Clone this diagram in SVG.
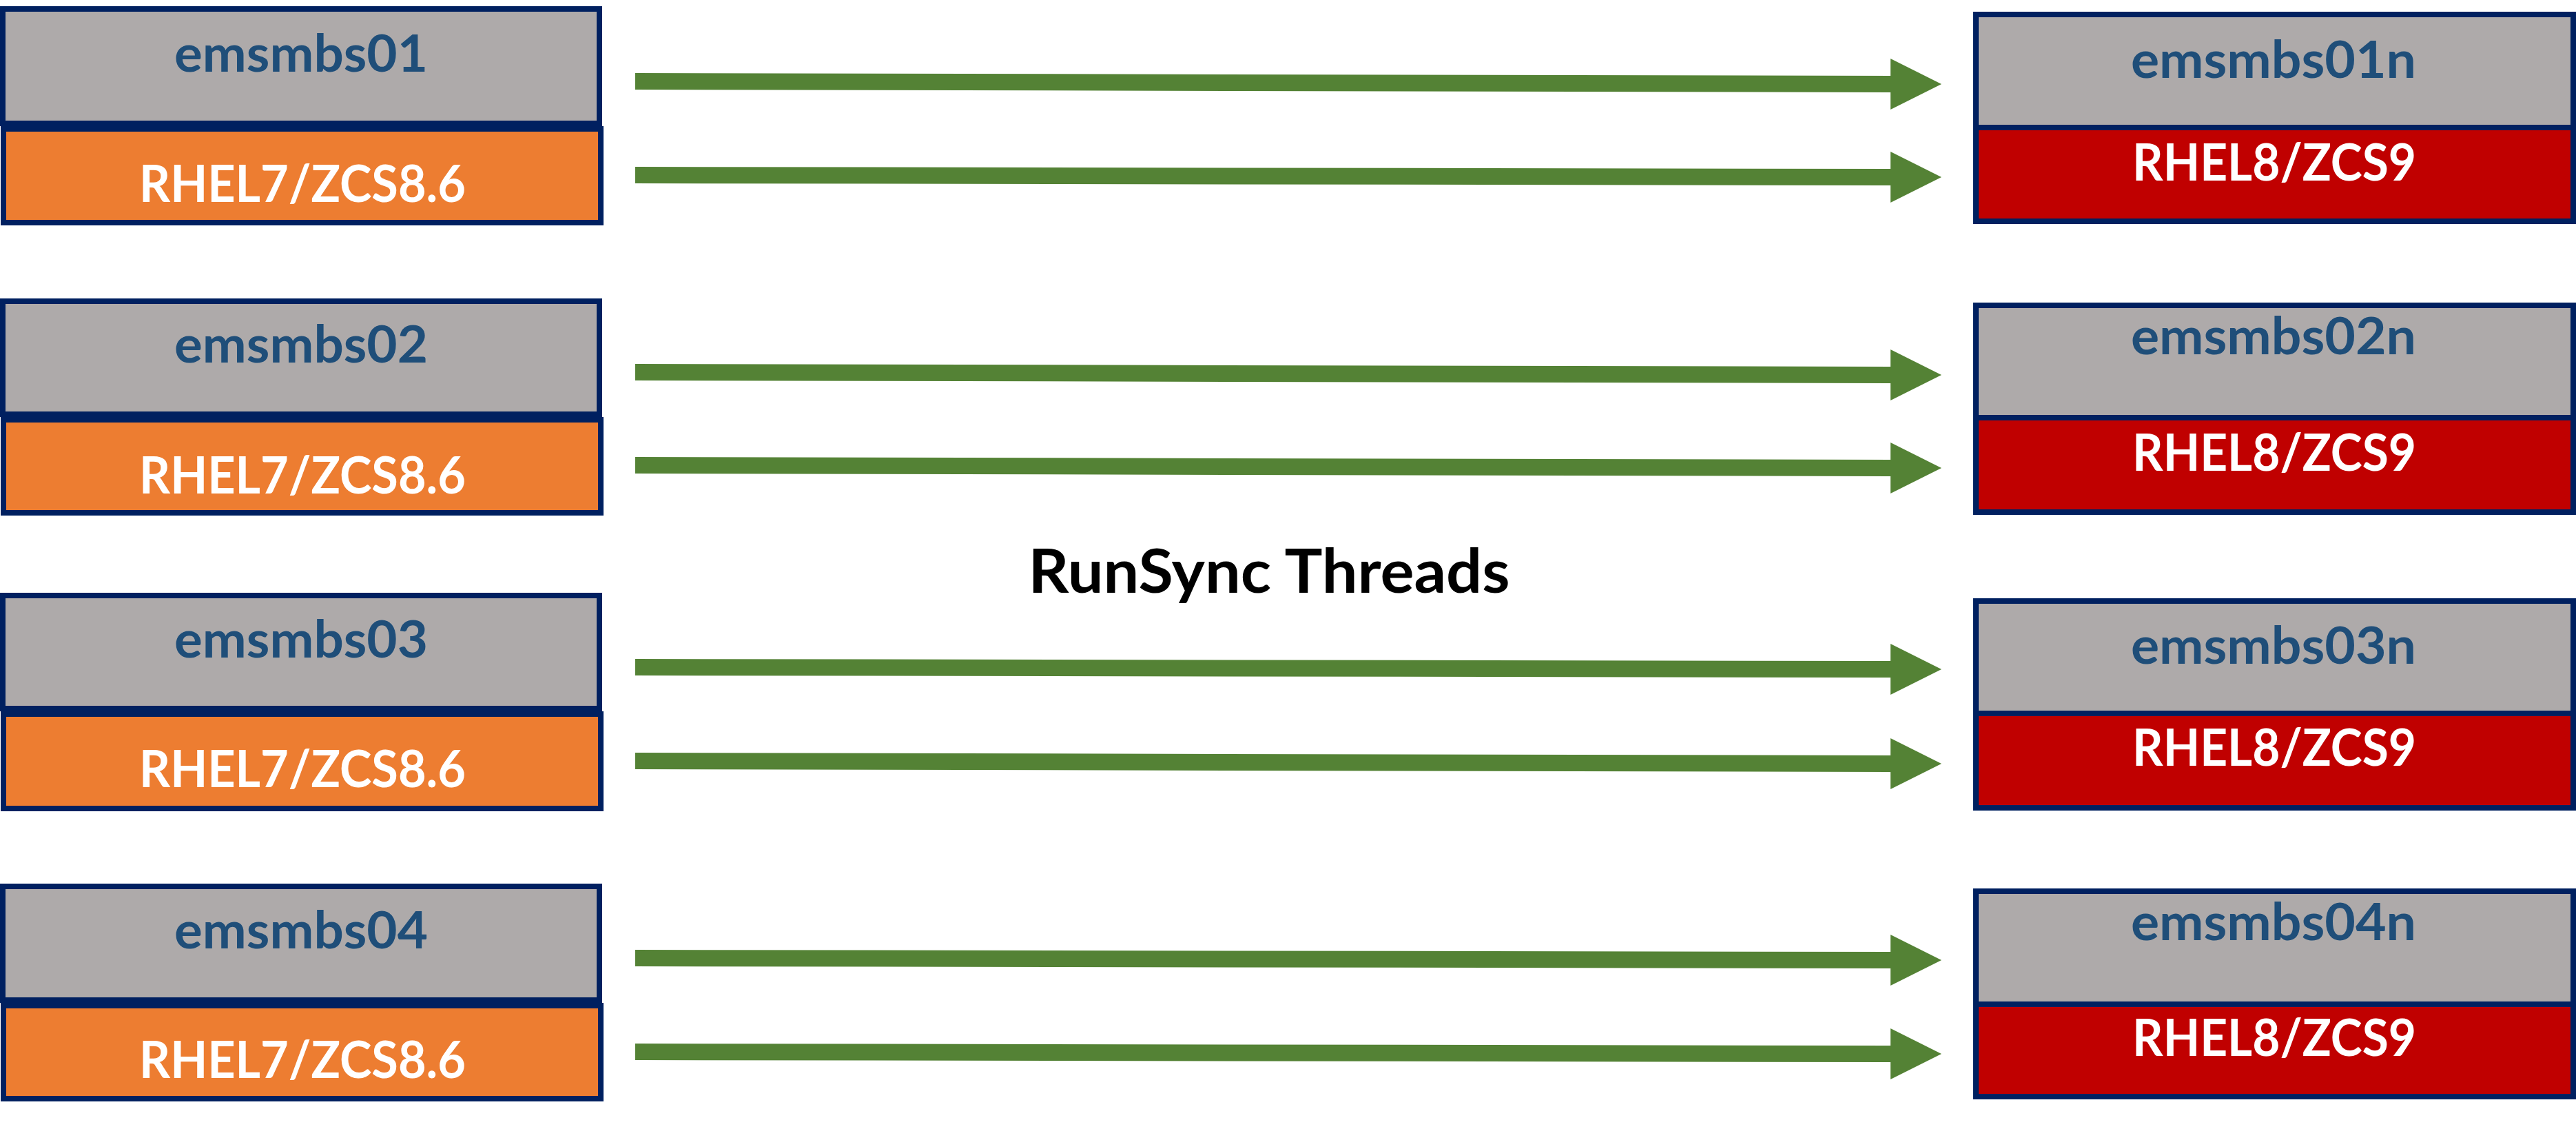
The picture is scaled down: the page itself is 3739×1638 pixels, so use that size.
<svg xmlns="http://www.w3.org/2000/svg" width="3739" height="1638" viewBox="0 0 3739 1638">
<style>
  .bg{fill:#FFFFFF}
  .gray{fill:#AEAAAA;stroke:#002060;stroke-width:8}
  .orange{fill:#ED7D31;stroke:#002060;stroke-width:8}
  .red{fill:#C00000}
  .frame{fill:none;stroke:#002060;stroke-width:8}
  .grayfill{fill:#AEAAAA}
  .div{stroke:#002060;stroke-width:8}
  .name{font-family:Lato,"Liberation Sans",Arial,sans-serif;font-weight:700;font-size:75px;fill:#1F4E79;text-anchor:middle}
  .os{font-family:Lato,"Liberation Sans",Arial,sans-serif;font-weight:700;font-size:75px;fill:#FFFFFF;text-anchor:middle}
  .title{font-family:Lato,"Liberation Sans",Arial,sans-serif;font-weight:700;font-size:88px;fill:#000000;text-anchor:middle}
  .arrow{fill:#548235}
</style>
<rect class="bg" x="0" y="0" width="3739" height="1638"/>

<!-- Left (source) servers -->
<g id="src-emsmbs01">
  <rect class="gray" x="4" y="13" width="866" height="166"/>
  <rect class="orange" x="5" y="187" width="867" height="136"/>
  <text class="name" x="437" y="104" textLength="368" lengthAdjust="spacingAndGlyphs">emsmbs01</text>
  <text class="os" x="439" y="293" textLength="474" lengthAdjust="spacingAndGlyphs">RHEL7/ZCS8.6</text>
</g>
<g id="src-emsmbs02">
  <rect class="gray" x="4" y="437" width="866" height="164"/>
  <rect class="orange" x="5" y="609" width="867" height="135"/>
  <text class="name" x="437" y="526" textLength="368" lengthAdjust="spacingAndGlyphs">emsmbs02</text>
  <text class="os" x="439" y="716" textLength="474" lengthAdjust="spacingAndGlyphs">RHEL7/ZCS8.6</text>
</g>
<g id="src-emsmbs03">
  <rect class="gray" x="4" y="864" width="866" height="164"/>
  <rect class="orange" x="5" y="1036" width="867" height="137"/>
  <text class="name" x="437" y="954" textLength="368" lengthAdjust="spacingAndGlyphs">emsmbs03</text>
  <text class="os" x="439" y="1142" textLength="474" lengthAdjust="spacingAndGlyphs">RHEL7/ZCS8.6</text>
</g>
<g id="src-emsmbs04">
  <rect class="gray" x="4" y="1286" width="866" height="165"/>
  <rect class="orange" x="5" y="1459" width="867" height="135"/>
  <text class="name" x="437" y="1376" textLength="368" lengthAdjust="spacingAndGlyphs">emsmbs04</text>
  <text class="os" x="439" y="1564" textLength="474" lengthAdjust="spacingAndGlyphs">RHEL7/ZCS8.6</text>
</g>

<!-- Right (target) servers -->
<g id="dst-emsmbs01n">
  <rect class="grayfill" x="2868" y="21" width="867" height="164"/>
  <rect class="red" x="2868" y="185" width="867" height="136"/>
  <line class="div" x1="2868" y1="185" x2="3735" y2="185"/>
  <rect class="frame" x="2868" y="21" width="867" height="300"/>
  <text class="name" x="3300" y="113" textLength="414" lengthAdjust="spacingAndGlyphs">emsmbs01n</text>
  <text class="os" x="3301" y="262" textLength="412" lengthAdjust="spacingAndGlyphs">RHEL8/ZCS9</text>
</g>
<g id="dst-emsmbs02n">
  <rect class="grayfill" x="2868" y="443" width="867" height="163"/>
  <rect class="red" x="2868" y="606" width="867" height="137"/>
  <line class="div" x1="2868" y1="606" x2="3735" y2="606"/>
  <rect class="frame" x="2868" y="443" width="867" height="300"/>
  <text class="name" x="3300" y="514" textLength="414" lengthAdjust="spacingAndGlyphs">emsmbs02n</text>
  <text class="os" x="3301" y="683" textLength="412" lengthAdjust="spacingAndGlyphs">RHEL8/ZCS9</text>
</g>
<g id="dst-emsmbs03n">
  <rect class="grayfill" x="2868" y="872" width="867" height="163"/>
  <rect class="red" x="2868" y="1035" width="867" height="137"/>
  <line class="div" x1="2868" y1="1035" x2="3735" y2="1035"/>
  <rect class="frame" x="2868" y="872" width="867" height="300"/>
  <text class="name" x="3300" y="963" textLength="414" lengthAdjust="spacingAndGlyphs">emsmbs03n</text>
  <text class="os" x="3301" y="1111" textLength="412" lengthAdjust="spacingAndGlyphs">RHEL8/ZCS9</text>
</g>
<g id="dst-emsmbs04n">
  <rect class="grayfill" x="2868" y="1293" width="867" height="164"/>
  <rect class="red" x="2868" y="1457" width="867" height="134"/>
  <line class="div" x1="2868" y1="1457" x2="3735" y2="1457"/>
  <rect class="frame" x="2868" y="1293" width="867" height="298"/>
  <text class="name" x="3300" y="1364" textLength="414" lengthAdjust="spacingAndGlyphs">emsmbs04n</text>
  <text class="os" x="3301" y="1532" textLength="412" lengthAdjust="spacingAndGlyphs">RHEL8/ZCS9</text>
</g>

<!-- Label -->
<g id="label-runsync">
  <text class="title" x="1842" y="860" textLength="699" lengthAdjust="spacingAndGlyphs">RunSync Threads</text>
</g>

<!-- Connectors -->
<g id="connectors">
  <polygon class="arrow" points="922,106 2744,110 2744,85 2818,122 2744,159 2744,134 922,130"/>
  <polygon class="arrow" points="922,242 2744,245 2744,220 2818,257 2744,294 2744,269 922,266"/>
  <polygon class="arrow" points="922,528 2744,532 2744,507 2818,544 2744,581 2744,556 922,552"/>
  <polygon class="arrow" points="922,663 2744,667 2744,642 2818,679 2744,716 2744,691 922,687"/>
  <polygon class="arrow" points="922,956 2744,959 2744,934 2818,971 2744,1008 2744,983 922,980"/>
  <polygon class="arrow" points="922,1092 2744,1096 2744,1071 2818,1108 2744,1145 2744,1120 922,1116"/>
  <polygon class="arrow" points="922,1378 2744,1381 2744,1356 2818,1393 2744,1430 2744,1405 922,1402"/>
  <polygon class="arrow" points="922,1514 2744,1517 2744,1492 2818,1529 2744,1566 2744,1541 922,1538"/>
</g>
</svg>
